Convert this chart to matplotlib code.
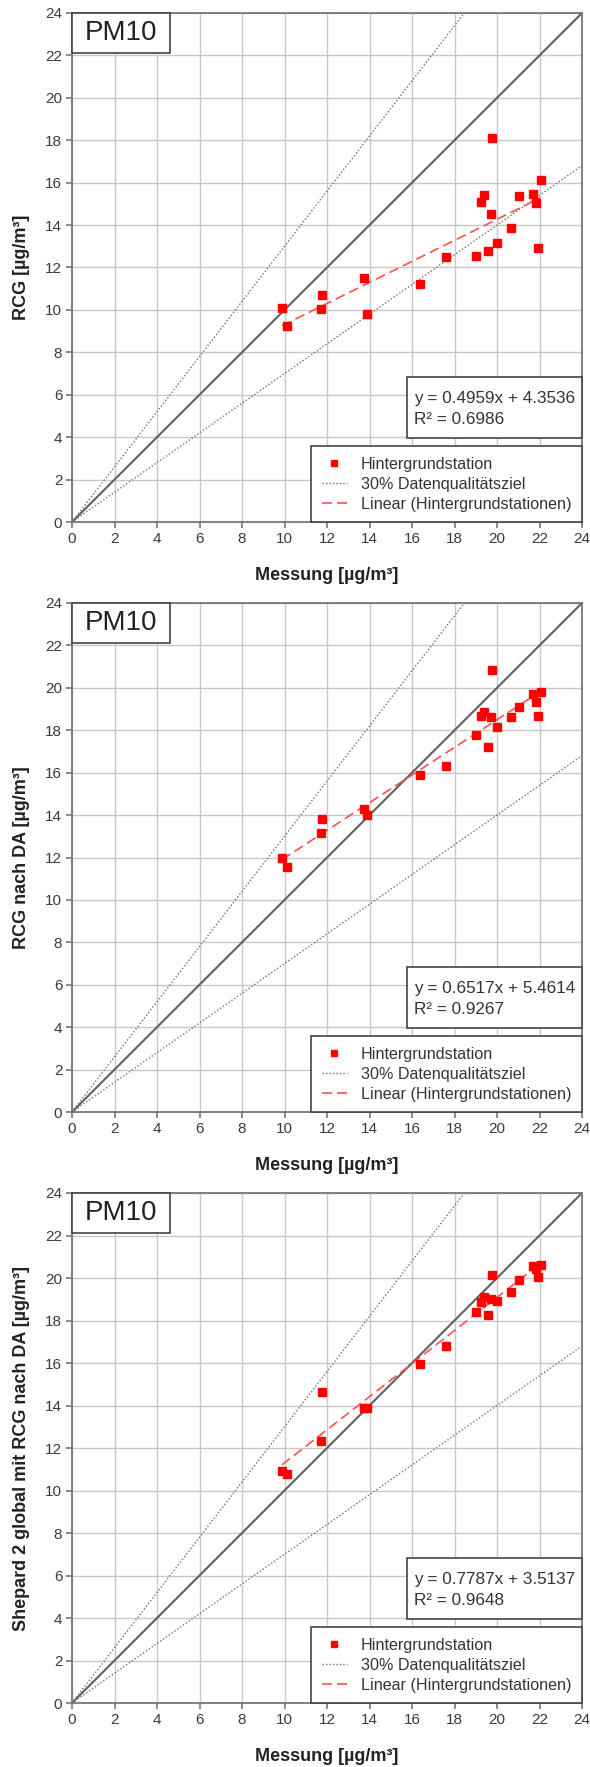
import matplotlib
matplotlib.use("Agg")
import matplotlib.pyplot as plt
import numpy as np
from matplotlib.patches import Rectangle
from matplotlib.lines import Line2D

plt.rcParams['font.family'] = ['Liberation Sans', 'DejaVu Sans']

# Messung (x) for the 21 background stations
messung = [9.88, 10.14, 11.75, 11.70, 13.73, 13.86, 16.37, 17.58, 19.00, 19.26, 19.38,
           19.59, 19.73, 19.77, 19.98, 20.64, 21.04, 21.70, 21.82, 21.91, 22.05]
# Model values per panel
rcg = [10.07, 9.22, 10.69, 10.02, 11.49, 9.79, 11.22, 12.50, 12.54, 15.07, 15.44,
       12.77, 14.54, 18.09, 13.17, 13.88, 15.37, 15.46, 15.04, 12.94, 16.13]
rcg_da = [12.00, 11.54, 13.81, 13.16, 14.27, 14.00, 15.89, 16.33, 17.78, 18.65, 18.87,
          17.23, 18.62, 20.85, 18.16, 18.62, 19.10, 19.72, 19.33, 18.67, 19.82]
shepard = [10.94, 10.78, 14.63, 12.33, 13.90, 13.90, 15.97, 16.78, 18.39, 18.88, 19.11,
           18.26, 19.00, 20.12, 18.93, 19.36, 19.89, 20.58, 20.42, 20.06, 20.63]

series = [rcg, rcg_da, shepard]
ylabels = ["RCG [µg/m³]", "RCG nach DA [µg/m³]", "Shepard 2 global mit RCG nach DA [µg/m³]"]
slopes = [0.4959, 0.6517, 0.7787]
intercepts = [4.3536, 5.4614, 3.5137]
r2 = [0.6986, 0.9267, 0.9648]
ticks = list(range(0, 25, 2))
panel_label = "PM10"
legend_labels = ["Hintergrundstation", "30% Datenqualitätsziel", "Linear (Hintergrundstationen)"]

W, H = 590, 1767
fig = plt.figure(figsize=(W / 100, H / 100), dpi=100)

panel_px = [(13, 522), (603, 1112), (1193, 1703)]
for i, (top, bot) in enumerate(panel_px):
    ax = fig.add_axes([72 / W, (H - bot) / H, 510 / W, (bot - top) / H])
    ax.set_xlim(0, 24)
    ax.set_ylim(0, 24)
    ax.set_xticks(ticks)
    ax.set_yticks(ticks)
    ax.grid(True, color='#c8c8c8', lw=1.0, zorder=0)
    ax.set_axisbelow(True)
    for s in ax.spines.values():
        s.set_color('#777777')
        s.set_linewidth(1.3)
    ax.tick_params(direction='out', length=4, width=1.2, color='#777777',
                   labelsize=11, labelcolor='#3a3a3a', pad=3)

    xs = np.array([0, 24])
    ax.plot(xs, xs, color='#606060', lw=1.5, zorder=2)
    ax.plot(xs, 1.3 * xs, color='#707070', lw=1.0, ls=(0, (1, 1.5)), zorder=2)
    ax.plot(xs, 0.7 * xs, color='#707070', lw=1.0, ls=(0, (1, 1.5)), zorder=2)

    ys = series[i]
    xl = np.array([min(messung), max(messung)])
    ax.plot(xl, slopes[i] * xl + intercepts[i], color='#ff5050', lw=1.2,
            ls=(0, (6, 3)), zorder=3)
    ax.plot(messung, ys, ls='none', marker='s', ms=5.6, color='#ff0000',
            mec='#ff0000', zorder=4)

    ax.set_xlabel("Messung [µg/m³]", fontsize=13, fontweight='bold', color='#222222')
    ax.set_ylabel(ylabels[i], fontsize=13, fontweight='bold', color='#222222')
    ax.xaxis.set_label_coords(0.5, -0.088)
    ax.yaxis.set_label_coords(-0.082, 0.5)

    # PM10 box
    ax.add_patch(Rectangle((0, 0.921), 0.192, 0.079, transform=ax.transAxes,
                           facecolor='white', edgecolor='#444444', lw=1.2, zorder=5,
                           clip_on=False))
    ax.text(0.096, 0.961, panel_label, transform=ax.transAxes, ha='center', va='center',
            fontsize=20, color='#222222', zorder=6)

    # equation box
    ax.add_patch(Rectangle((0.657, 0.165), 0.343, 0.12, transform=ax.transAxes,
                           facecolor='white', edgecolor='#444444', lw=1.2, zorder=5,
                           clip_on=False))
    ax.text(0.67, 0.243, f"y = {slopes[i]:.4f}x + {intercepts[i]:.4f}",
            transform=ax.transAxes, ha='left', va='center', fontsize=12.3,
            color='#333333', zorder=6)
    ax.text(0.67, 0.201, f"R² = {r2[i]:.4f}", transform=ax.transAxes, ha='left',
            va='center', fontsize=12.3, color='#333333', zorder=6)

    handles = [
        Line2D([], [], ls='none', marker='s', ms=5, color='#ff0000'),
        Line2D([], [], color='#707070', lw=1.0, ls=(0, (1, 1.5))),
        Line2D([], [], color='#ff5050', lw=1.2, ls=(0, (6, 3))),
    ]
    leg = ax.legend(handles, legend_labels, loc='lower right', bbox_to_anchor=(1.0, 0.0),
                    borderaxespad=0, fontsize=11.6, frameon=True, fancybox=False,
                    edgecolor='#444444', framealpha=1, handlelength=1.6,
                    handletextpad=0.85, labelspacing=0.3, borderpad=0.65,
                    labelcolor='#333333')
    leg.get_frame().set_linewidth(1.2)
    leg.set_zorder(7)

fig.savefig("out.png", dpi=100)
